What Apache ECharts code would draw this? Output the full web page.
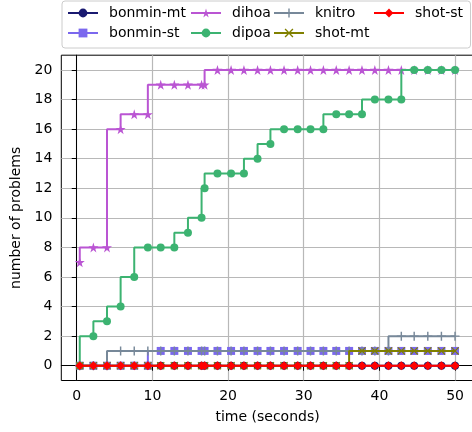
<!DOCTYPE html>
<html>
<head>
<meta charset="utf-8">
<script src="https://cdn.jsdelivr.net/npm/echarts@6/dist/echarts.min.js"></script>
<style>
  html, body { margin: 0; padding: 0; background: #fff; }
  #chart { width: 472px; height: 432px; }
</style>
</head>
<body>
<div id="chart"></div>
<script>
// sample times (seconds)
const times = [0.4, 2.2, 4.0, 5.8, 7.6, 9.4, 11.1, 12.9, 14.7, 16.5, 16.9, 18.6, 20.4, 22.1, 23.9,
  25.6, 27.4, 29.2, 30.9, 32.6, 34.3, 36.0, 37.7, 39.4, 41.2, 42.9, 44.6, 46.4, 48.2, 50.0];

const bonminMt = [0, 0, 0, 0, 0, 0, 0, 0, 0, 0, 0, 0, 0, 0, 0, 0, 0, 0, 0, 0, 0, 0, 0, 0, 0, 0, 0, 0, 0, 0];
const bonminSt = [0, 0, 0, 0, 0, 0, 1, 1, 1, 1, 1, 1, 1, 1, 1, 1, 1, 1, 1, 1, 1, 1, 1, 1, 1, 1, 1, 1, 1, 1];
const dihoa = [7, 8, 8, 16, 17, 17, 19, 19, 19, 19, 19, 20, 20, 20, 20, 20, 20, 20, 20, 20, 20, 20, 20, 20, 20, 20, 20, 20, 20, 20];
const dipoa = [0, 2, 3, 4, 6, 8, 8, 8, 9, 10, 12, 13, 13, 13, 14, 15, 16, 16, 16, 16, 17, 17, 17, 18, 18, 18, 20, 20, 20, 20];
const knitro = [0, 0, 0, 1, 1, 1, 1, 1, 1, 1, 1, 1, 1, 1, 1, 1, 1, 1, 1, 1, 1, 1, 1, 1, 1, 2, 2, 2, 2, 2];
const shotMt = [0, 0, 0, 0, 0, 0, 0, 0, 0, 0, 0, 0, 0, 0, 0, 0, 0, 0, 0, 0, 0, 0, 1, 1, 1, 1, 1, 1, 1, 1];
const shotSt = [0, 0, 0, 0, 0, 0, 0, 0, 0, 0, 0, 0, 0, 0, 0, 0, 0, 0, 0, 0, 0, 0, 0, 0, 0, 0, 0, 0, 0, 0];

const xTicks = [0, 10, 20, 30, 40, 50];
const yTicks = [0, 2, 4, 6, 8, 10, 12, 14, 16, 18, 20];

const STAR = 'path://M50,0L61,35H98L68,57L79,91L50,70L21,91L32,57L2,35H39Z';
const PLUS = 'path://M4.2,0H5.8V4.2H10V5.8H5.8V10H4.2V5.8H0V4.2H4.2Z';
const CROSS = 'path://M1.1,0L5,3.9L8.9,0L10,1.1L6.1,5L10,8.9L8.9,10L5,6.1L1.1,10L0,8.9L3.9,5L0,1.1Z';

const solvers = [
  { name: 'bonmin-mt', values: bonminMt, color: '#191970', symbol: 'circle', size: 8 },
  { name: 'bonmin-st', values: bonminSt, color: '#7b68ee', symbol: 'rect', size: 8 },
  { name: 'dihoa', values: dihoa, color: '#ba55d3', symbol: STAR, size: 10 },
  { name: 'dipoa', values: dipoa, color: '#3cb371', symbol: 'circle', size: 8 },
  { name: 'knitro', values: knitro, color: '#778899', symbol: PLUS, size: 9 },
  { name: 'shot-mt', values: shotMt, color: '#808000', symbol: CROSS, size: 8 },
  { name: 'shot-st', values: shotSt, color: '#ff0000', symbol: 'diamond', size: 9 }
];

const font = 'DejaVu Sans';
const chart = echarts.init(document.getElementById('chart'));

function legendCol(names, left) {
  return {
    data: names,
    orient: 'vertical',
    left: left,
    top: 6,
    itemWidth: 30,
    itemHeight: 11,
    itemGap: 6,
    padding: 0,
    textStyle: { fontFamily: font, fontSize: 14, color: '#000', lineHeight: 14, padding: [0, 0, 0, 6] }
  };
}

chart.setOption({
  animation: false,
  backgroundColor: '#fff',
  textStyle: { fontFamily: font },
  graphic: [{
    type: 'rect',
    shape: { x: 62, y: 1, width: 408.5, height: 47, r: 3 },
    style: { fill: '#fff', stroke: '#cccccc', lineWidth: 1 },
    z: -1
  }],
  legend: [
    legendCol(['bonmin-mt', 'bonmin-st'], 67),
    legendCol(['dihoa', 'dipoa'], 190),
    legendCol(['knitro', 'shot-mt'], 273),
    legendCol(['shot-st'], 373)
  ],
  grid: {
    left: 61.3, width: 412.5, top: 55.2, bottom: 51.5,
    outerBoundsMode: 'none', containLabel: false,
    show: true, borderColor: '#000', borderWidth: 1
  },
  xAxis: {
    type: 'value',
    min: -2.04,
    max: 52.48,
    name: 'time (seconds)',
    nameLocation: 'middle',
    nameGap: 30,
    nameTextStyle: { fontFamily: font, fontSize: 14, color: '#000' },
    axisLine: { lineStyle: { color: '#000', width: 1 } },
    axisTick: { customValues: xTicks, length: 5, lineStyle: { color: '#000' } },
    axisLabel: { customValues: xTicks, margin: 9, fontFamily: font, fontSize: 14, color: '#000' },
    splitLine: { show: true, lineStyle: { color: '#b8b8b8', width: 1.2 } }
  },
  yAxis: {
    type: 'value',
    min: -1,
    max: 21,
    name: 'number of problems',
    nameLocation: 'middle',
    nameGap: 31,
    nameTextStyle: { fontFamily: font, fontSize: 14, color: '#000' },
    axisLine: { show: true, lineStyle: { color: '#000', width: 1 } },
    axisTick: { show: true, customValues: yTicks, length: 5, lineStyle: { color: '#000' } },
    axisLabel: { customValues: yTicks, margin: 9, fontFamily: font, fontSize: 14, color: '#000' },
    splitLine: { show: true, lineStyle: { color: '#b8b8b8', width: 1.2 } }
  },
  series: solvers.map((s, i) => ({
    name: s.name,
    type: 'line',
    step: 'start',
    z: 2 + i,
    data: times.map((t, k) => [t, s.values[k]]),
    symbol: s.symbol,
    symbolSize: s.size,
    showAllSymbol: true,
    color: s.color,
    lineStyle: { color: s.color, width: 2 },
    itemStyle: { color: s.color, borderWidth: 0 }
  }))
});
</script>
</body>
</html>
